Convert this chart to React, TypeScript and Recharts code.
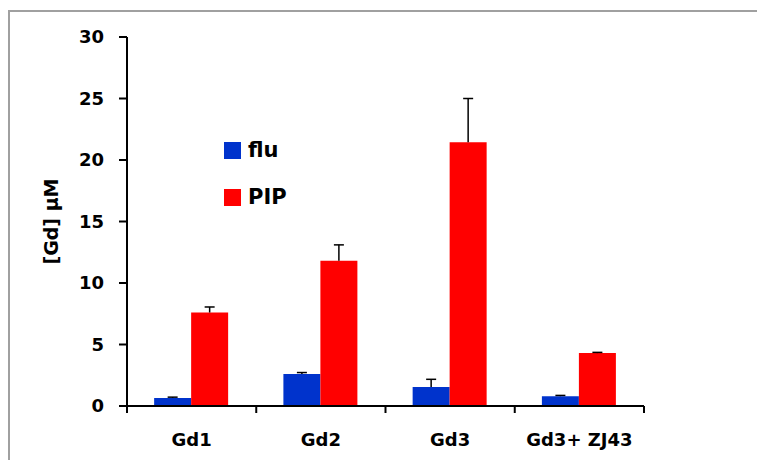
import React from "react";
import { BarChart, Bar, XAxis, YAxis, ErrorBar, Legend, Label } from "recharts";

const groups = ["Gd1", "Gd2", "Gd3", "Gd3+ ZJ43"];
const fluValues = [0.65, 2.6, 1.55, 0.8];
const fluErrors = [0.07, 0.12, 0.62, 0.06];
const pipValues = [7.6, 11.8, 21.45, 4.3];
const pipErrors = [0.45, 1.3, 3.55, 0.06];
const yTicks = [0, 5, 10, 15, 20, 25, 30];
const seriesOrder = ["flu", "PIP"];

const data = groups.map((name, i) => ({
  name,
  flu: fluValues[i],
  fluErr: [0, fluErrors[i]],
  pip: pipValues[i],
  pipErr: [0, pipErrors[i]],
}));

const FONT = "'DejaVu Sans', sans-serif";
const BLUE = "#0033cc";
const RED = "#ff0000";

const CategoryTick = (props: any) => {
  const { x, y, payload, index, visibleTicksCount } = props;
  const axisY = y - 17;
  const half = payload.offset;
  const last = index === visibleTicksCount - 1;
  return (
    <g>
      <line x1={x - half} x2={x - half} y1={axisY} y2={axisY + 7} stroke="#000" strokeWidth={2} />
      {last && (
        <line x1={x + half} x2={x + half} y1={axisY} y2={axisY + 7} stroke="#000" strokeWidth={2} />
      )}
      <text
        x={x}
        y={y + 23}
        textAnchor="middle"
        fontFamily={FONT}
        fontWeight="bold"
        fontSize={18}
        fill="#000"
      >
        {payload.value}
      </text>
    </g>
  );
};

const LegendBox = (props: any) => {
  const items = [...(props.payload || [])].sort(
    (a: any, b: any) => seriesOrder.indexOf(a.value) - seriesOrder.indexOf(b.value)
  );
  return (
    <div style={{ fontFamily: FONT, fontWeight: "bold", fontSize: 21, color: "#000" }}>
      {items.map((item: any) => (
        <div
          key={item.value}
          style={{ display: "flex", alignItems: "center", height: 24, marginBottom: 23 }}
        >
          <span
            style={{ width: 17, height: 17, background: item.color, display: "inline-block", marginRight: 7 }}
          />
          <span>{item.value}</span>
        </div>
      ))}
    </div>
  );
};

export default function App() {
  return (
    <div style={{ position: "absolute", left: 0, top: 0, width: 757, height: 460, overflow: "hidden", background: "#fff" }}>
      {/* hide the lower whisker cap so only the upper half of the error bar shows */}
      <style>{`.recharts-errorBar line:nth-of-type(3) { display: none; }`}</style>
      <div
        style={{
          position: "absolute",
          left: 8,
          top: 10,
          width: 1200,
          height: 800,
          border: "2px solid #a0a0a0",
          boxSizing: "border-box",
        }}
      />
      <div style={{ position: "absolute", left: 0, top: 0 }}>
        <BarChart
          width={757}
          height={460}
          data={data}
          margin={{ top: 37, right: 113, left: 0, bottom: 0 }}
          barCategoryGap="21%"
          barGap={0}
        >
          <XAxis
            dataKey="name"
            height={54}
            axisLine={{ stroke: "#000", strokeWidth: 2 }}
            tickLine={false}
            tickSize={7}
            tickMargin={10}
            tick={<CategoryTick />}
            interval={0}
          />
          <YAxis
            width={127}
            domain={[0, 30]}
            ticks={yTicks}
            axisLine={{ stroke: "#000", strokeWidth: 2 }}
            tickLine={{ stroke: "#000", strokeWidth: 2 }}
            tickSize={8}
            tickMargin={15}
            tick={{ fill: "#000", fontFamily: FONT, fontWeight: "bold", fontSize: 18 }}
          >
            <Label
              content={(p: any) => {
                const vb = p.viewBox;
                const cx = vb.x + 51;
                const cy = vb.y + vb.height / 2;
                return (
                  <text
                    x={cx}
                    y={cy}
                    transform={`rotate(-90 ${cx} ${cy})`}
                    textAnchor="middle"
                    dominantBaseline="central"
                    fontFamily={FONT}
                    fontWeight="bold"
                    fontSize={19}
                    fill="#000"
                  >
                    [Gd] μM
                  </text>
                );
              }}
            />
          </YAxis>
          <Legend
            layout="vertical"
            align="center"
            verticalAlign="middle"
            wrapperStyle={{ left: 224, top: 138, width: 120 }}
            content={<LegendBox />}
          />
          <Bar dataKey="flu" name="flu" fill={BLUE} isAnimationActive={false}>
            <ErrorBar dataKey="fluErr" width={5} stroke="#000" strokeWidth={1.5} direction="y" />
          </Bar>
          <Bar dataKey="pip" name="PIP" fill={RED} isAnimationActive={false}>
            <ErrorBar dataKey="pipErr" width={5} stroke="#000" strokeWidth={1.5} direction="y" />
          </Bar>
        </BarChart>
      </div>
    </div>
  );
}
